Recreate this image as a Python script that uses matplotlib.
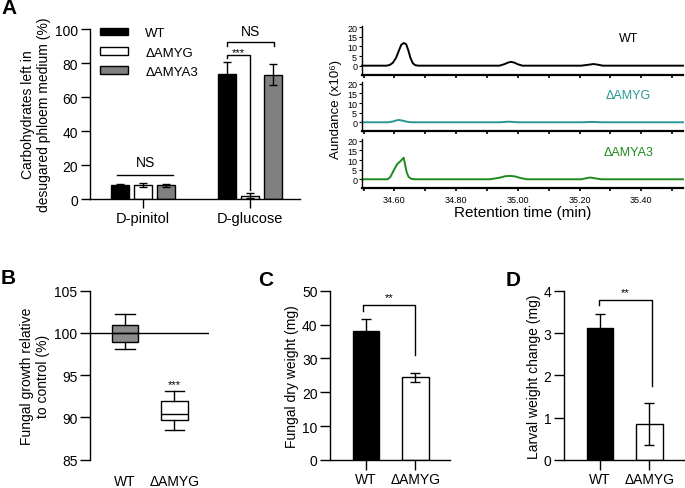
import matplotlib
matplotlib.use("Agg")
import matplotlib.pyplot as plt
from matplotlib.ticker import FixedLocator, MultipleLocator

plt.rcParams["font.family"] = ["Liberation Sans", "DejaVu Sans"]
plt.rcParams["axes.linewidth"] = 1.0
plt.rcParams["xtick.major.width"] = 1.0
plt.rcParams["ytick.major.width"] = 1.0

# ---- panel A, bar chart ----
a_groups = ["D-pinitol", "D-glucose"]
a_strains = ["WT", "\u0394AMYG", "\u0394AMYA3"]
a_values = {
    "WT": [8.0, 73.5],
    "\u0394AMYG": [8.2, 2.0],
    "\u0394AMYA3": [8.0, 73.0],
}
a_errors = {
    "WT": [0.8, 7.0],
    "\u0394AMYG": [1.0, 1.5],
    "\u0394AMYA3": [1.0, 6.2],
}
a_colors = ["black", "white", "#808080"]

# ---- panel A, chromatograms (time in min, abundance x10^6) ----
wt_time = [34.495, 34.575, 34.585, 34.595, 34.605, 34.615, 34.622, 34.63,
           34.638, 34.645, 34.652, 34.66, 34.668, 34.68, 34.94, 34.955,
           34.968, 34.978, 34.99, 35.0, 35.015, 35.205, 35.225, 35.245,
           35.26, 35.275, 35.535]
wt_abund = [0, 0, 0.4, 1.5, 4.0, 8.0, 10.8, 11.8,
            11.2, 8.0, 4.0, 1.2, 0.2, 0, 0, 0.7,
            1.6, 2.0, 1.5, 0.7, 0, 0, 0.4, 0.85,
            0.5, 0, 0]
amyg_time = [34.495, 34.58, 34.595, 34.605, 34.614, 34.625, 34.64, 34.655,
             34.94, 34.97, 35.0, 35.21, 35.24, 35.27, 35.535]
amyg_abund = [0, 0, 0.4, 0.9, 1.2, 0.9, 0.3, 0,
              0, 0.3, 0, 0, 0.2, 0, 0]
amya3_time = [34.495, 34.578, 34.587, 34.598, 34.609, 34.62, 34.63, 34.636,
              34.64, 34.646, 34.655, 34.665, 34.91, 34.94, 34.96, 34.975,
              34.99, 35.01, 35.03, 35.205, 35.22, 35.235, 35.25, 35.27,
              35.535]
amya3_abund = [0, 0, 1.2, 4.7, 7.9, 9.5, 11.2, 6.5,
               3.5, 1.2, 0.2, 0, 0, 0.8, 1.6, 1.75,
               1.5, 0.6, 0, 0, 0.5, 0.9, 0.5, 0,
               0]
chrom_traces = [
    (wt_time, wt_abund, "black", "WT"),
    (amyg_time, amyg_abund, "#2a9696", "\u0394AMYG"),
    (amya3_time, amya3_abund, "#1e8a1e", "\u0394AMYA3"),
]

# ---- panel B, box plot ----
b_groups = ["WT", "\u0394AMYG"]
b_whislo = [98.1, 88.5]
b_q1 = [98.9, 89.7]
b_med = [100.0, 90.4]
b_q3 = [100.9, 91.9]
b_whishi = [102.3, 93.1]
b_colors = ["#8c8c8c", "white"]

# ---- panel C ----
c_groups = ["WT", "\u0394AMYG"]
c_values = [38.2, 24.4]
c_errors = [3.4, 1.4]

# ---- panel D ----
d_groups = ["WT", "\u0394AMYG"]
d_values = [3.11, 0.85]
d_errors = [0.35, 0.5]

W, H = 685, 489


def rect(x0, y0, x1, y1):
    # pixel box (top-left origin) -> figure fraction
    return [x0 / W, 1 - y1 / H, (x1 - x0) / W, (y1 - y0) / H]


def style_axes(ax, ticklen=7):
    ax.spines["top"].set_visible(False)
    ax.spines["right"].set_visible(False)
    ax.tick_params(direction="out", length=ticklen, labelsize=10, pad=2)


def bracket(ax, x0, x1, y, y0, y1, text, text_y, size=9):
    ax.plot([x0, x0, x1, x1], [y0, y, y, y1], color="black", lw=1.0,
            clip_on=False)
    ax.text((x0 + x1) / 2, text_y, text, ha="center", va="bottom",
            fontsize=size)


def panel_letter(x, y, letter):
    fig.text(x / W, 1 - y / H, letter, fontsize=15, fontweight="bold",
             va="center", ha="center")


fig = plt.figure(figsize=(6.85, 4.89), dpi=100)

# ================= A: bars =================
ax_a = fig.add_axes(rect(90, 30, 300, 200))
style_axes(ax_a, ticklen=6.5)
width = 0.17
offsets = [-0.215, 0.0, 0.215]
xs = list(range(len(a_groups)))
handles = []
for strain, off, col in zip(a_strains, offsets, a_colors):
    h = ax_a.bar([x + off for x in xs], a_values[strain], width=width,
                 color=col, edgecolor="black", linewidth=1.0,
                 yerr=a_errors[strain], capsize=3,
                 error_kw=dict(elinewidth=1.0, capthick=1.0), label=strain)
    handles.append(h)
ax_a.set_xlim(-0.495, 1.467)
ax_a.set_ylim(0, 100)
ax_a.set_yticks([0, 20, 40, 60, 80, 100])
ax_a.set_xticks(xs)
ax_a.set_xticklabels(a_groups, fontsize=10.5)
ax_a.set_ylabel("Carbohydrates left in\ndesugared phloem medium (%)",
                fontsize=10, labelpad=3)
ax_a.legend(handles, a_strains, loc="upper left",
            bbox_to_anchor=(-0.007, 1.08),
            frameon=False, fontsize=9.5, handlelength=2.1, handleheight=0.5,
            handletextpad=1.3, labelspacing=0.55)
ax_a.plot([-0.245, 0.28], [14, 14], color="black", lw=1.0)
ax_a.text(0.02, 17.5, "NS", ha="center", va="bottom", fontsize=10)
bracket(ax_a, 0.785, 1.22, 92.2, 90.2, 90.2, "NS", 95, size=10)
bracket(ax_a, 0.785, 1.0, 84.5, 82.8, 5.5, "***", 83.5, size=8)
panel_letter(9, 9, "A")

# ================= A: chromatograms =================
chrom_boxes = [(26.7, 75.7), (83.3, 132.3), (140.3, 189.3)]
for i, ((t, ab, col, lab), (top, bot)) in enumerate(zip(chrom_traces,
                                                        chrom_boxes)):
    ax = fig.add_axes(rect(362, top, 683, bot))
    ax.plot(t, ab, color=col, lw=1.4, clip_on=False)
    ax.set_xlim(34.495, 35.535)
    ax.set_ylim(-4.7, 20.8)
    ax.spines["top"].set_visible(False)
    ax.spines["right"].set_visible(False)
    ax.spines["bottom"].set_linewidth(1.6)
    ax.spines["left"].set_linewidth(1.0)
    ax.set_yticks([0, 5, 10, 15, 20])
    ax.xaxis.set_major_locator(FixedLocator([34.6, 34.8, 35.0, 35.2, 35.4]))
    ax.xaxis.set_minor_locator(MultipleLocator(0.1))
    ax.tick_params(axis="y", direction="out", length=2.5, labelsize=6.5,
                   pad=1, width=0.8)
    ax.tick_params(axis="x", which="both", direction="out", length=2.5,
                   width=1.2, labelsize=6.5, pad=2)
    if i < 2:
        ax.tick_params(axis="x", labelbottom=False)
    else:
        ax.set_xticklabels(["34.60", "34.80", "35.00", "35.20", "35.40"])
        ax.set_xlabel("Retention time (min)", fontsize=11, labelpad=1)
    ax.text(0.83, 0.75, lab, transform=ax.transAxes, color=col,
            fontsize=9, ha="center", va="center")
fig.text(336 / W, 1 - 110 / H, "Aundance (x10\u2076)", rotation=90,
         fontsize=9.5, ha="center", va="center")

# ================= B: box plot =================
ax_b = fig.add_axes(rect(90, 291.7, 209, 460.7))
stats = []
for g, lo, q1, med, q3, hi in zip(b_groups, b_whislo, b_q1, b_med, b_q3,
                                  b_whishi):
    stats.append(dict(label=g, whislo=lo, q1=q1, med=med, q3=q3, whishi=hi,
                      fliers=[]))
bp = ax_b.bxp(stats, positions=[1, 2], widths=0.53, patch_artist=True,
              showfliers=False,
              boxprops=dict(linewidth=1.0, edgecolor="black"),
              medianprops=dict(color="black", linewidth=1.0),
              whiskerprops=dict(linewidth=1.0),
              capprops=dict(linewidth=1.0), capwidths=0.4)
for patch, col in zip(bp["boxes"], b_colors):
    patch.set_facecolor(col)
ax_b.axhline(100, color="black", lw=1.0, zorder=3)
ax_b.set_xlim(0.29, 2.7)
ax_b.set_ylim(85, 105)
ax_b.set_yticks([85, 90, 95, 100, 105])
for s in ["top", "right", "bottom"]:
    ax_b.spines[s].set_visible(False)
ax_b.tick_params(axis="y", direction="out", length=7, labelsize=10, pad=2)
ax_b.tick_params(axis="x", length=0, labelsize=10, pad=10)
ax_b.set_ylabel("Fungal growth relative\nto control (%)", fontsize=10,
                labelpad=3)
ax_b.text(2, b_whishi[1] + 0.2, "***", ha="center", va="bottom", fontsize=8)
panel_letter(8, 279, "B")

# ================= C =================
ax_c = fig.add_axes(rect(330, 291.7, 450, 461))
style_axes(ax_c)
ax_c.bar([1, 2], c_values, width=0.545, color=["black", "white"],
         edgecolor="black", linewidth=1.0, yerr=c_errors, capsize=3.5,
         error_kw=dict(elinewidth=1.0, capthick=1.0))
ax_c.set_xlim(0.265, 2.71)
ax_c.set_ylim(0, 50)
ax_c.set_yticks([0, 10, 20, 30, 40, 50])
ax_c.set_xticks([1, 2])
ax_c.set_xticklabels(c_groups)
ax_c.set_ylabel("Fungal dry weight (mg)", fontsize=10, labelpad=2)
bracket(ax_c, 0.94, 2.0, 45.8, 44.1, 31.0, "**", 46.6, size=8)
panel_letter(266, 280, "C")

# ================= D =================
ax_d = fig.add_axes(rect(564, 291.7, 685, 461))
style_axes(ax_d)
ax_d.bar([1, 2], d_values, width=0.545, color=["black", "white"],
         edgecolor="black", linewidth=1.0, yerr=d_errors, capsize=3.5,
         error_kw=dict(elinewidth=1.0, capthick=1.0))
ax_d.set_xlim(0.265, 2.73)
ax_d.set_ylim(0, 4)
ax_d.set_yticks([0, 1, 2, 3, 4])
ax_d.set_xticks([1, 2])
ax_d.set_xticklabels(d_groups)
ax_d.set_ylabel("Larval weight change (mg)", fontsize=10, labelpad=2)
bracket(ax_d, 0.98, 2.05, 3.79, 3.66, 1.76, "**", 3.85, size=8)
panel_letter(513, 280, "D")

fig.savefig("out.png", dpi=100)
